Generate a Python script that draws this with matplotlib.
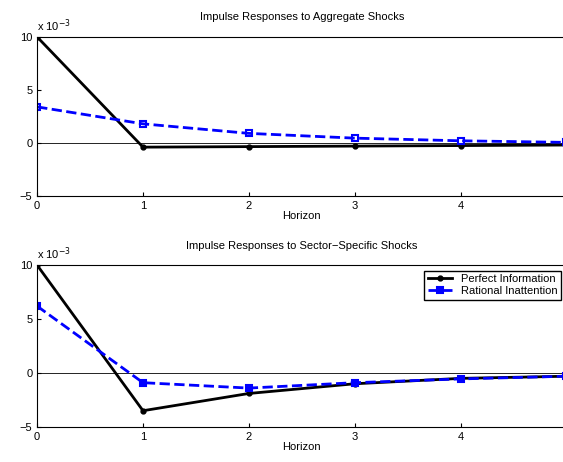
import numpy as np
import matplotlib.pyplot as plt

plt.rcParams["font.family"] = ["Liberation Sans", "DejaVu Sans"]
plt.rcParams["font.size"] = 8

horizon = np.arange(0, 6)
agg_perfect = [10, -0.4, -0.35, -0.3, -0.25, -0.2]
agg_rational = [3.4, 1.8, 0.9, 0.45, 0.2, 0.05]
sec_perfect = [10, -3.5, -1.9, -1.0, -0.5, -0.3]
sec_rational = [6.2, -0.9, -1.4, -0.9, -0.55, -0.3]
titles = ["Impulse Responses to Aggregate Shocks",
          "Impulse Responses to Sector\u2212Specific Shocks"]

fig = plt.figure(figsize=(5.63, 4.62), dpi=100)
ax1 = fig.add_axes([0.066, 0.576, 0.94, 0.344])
ax2 = fig.add_axes([0.066, 0.076, 0.94, 0.35])

for ax, p, r, title in [(ax1, agg_perfect, agg_rational, titles[0]),
                        (ax2, sec_perfect, sec_rational, titles[1])]:
    ax.axhline(0, color="black", lw=0.6)
    ax.plot(horizon, p, "k-", marker="o", ms=3.5, lw=2,
            label="Perfect Information")
    ax.plot(horizon, r, "b--", marker="s", ms=4, lw=2, mfc="none", mew=1.5,
            label="Rational Inattention")
    ax.set_xlim(0, 5)
    ax.set_ylim(-5, 10)
    ax.set_yticks([-5, 0, 5, 10])
    ax.set_yticklabels(["\u22125", "0", "5", "10"])
    ax.tick_params(direction="in", length=3, labelsize=8)
    ax.set_xlabel("Horizon", labelpad=0)
    ax.set_title(title, fontsize=8, pad=12)
    ax.text(0, 1.02, r"x 10$^{-3}$", transform=ax.transAxes, fontsize=8,
            va="bottom")

ax2.lines[2].set_mfc("b")
ax2.legend(loc="upper right", fontsize=8, fancybox=False, edgecolor="black",
           framealpha=1, handlelength=2.2, borderpad=0.3, labelspacing=0.2)

fig.savefig("out.png", dpi=100)
